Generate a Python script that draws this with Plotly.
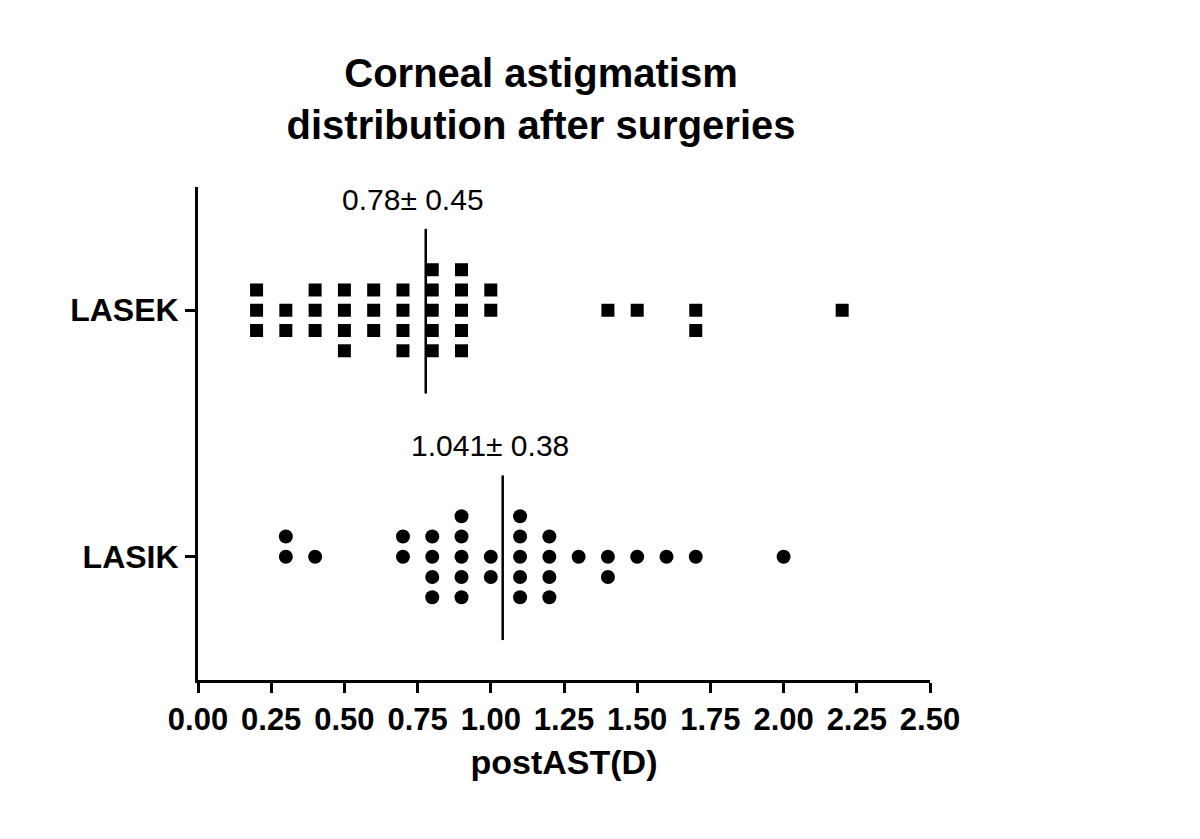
import plotly.graph_objects as go
from collections import Counter

# ---------------- data ----------------
groups = ["LASEK", "LASIK"]
lasek_ast = [0.2, 0.2, 0.2, 0.3, 0.3, 0.4, 0.4, 0.4,
             0.5, 0.5, 0.5, 0.5, 0.6, 0.6, 0.6,
             0.7, 0.7, 0.7, 0.7, 0.8, 0.8, 0.8, 0.8, 0.8,
             0.9, 0.9, 0.9, 0.9, 0.9, 1.0, 1.0,
             1.4, 1.5, 1.7, 1.7, 2.2]
lasik_ast = [0.3, 0.3, 0.4, 0.7, 0.7, 0.8, 0.8, 0.8, 0.8,
             0.9, 0.9, 0.9, 0.9, 0.9, 1.0, 1.0,
             1.1, 1.1, 1.1, 1.1, 1.1, 1.2, 1.2, 1.2, 1.2,
             1.3, 1.4, 1.4, 1.5, 1.6, 1.7, 2.0]
stat_labels = ["0.78\u00b1 0.45", "1.041\u00b1 0.38"]
x_ticks = [0.0, 0.25, 0.5, 0.75, 1.0, 1.25, 1.5, 1.75, 2.0, 2.25, 2.5]
x_ticklabels = ["0.00", "0.25", "0.50", "0.75", "1.00", "1.25", "1.50",
                "1.75", "2.00", "2.25", "2.50"]

# ---------------- layout helpers ----------------
FONT = "Liberation Sans, Arial, sans-serif"
group_pos = {"LASEK": 1.0, "LASIK": 0.0}
STEP = 0.0822  # vertical spacing between stacked points (axis units)
# for even-sized stacks: values whose extra point sits above the centre row
extra_above = {"LASEK": {1.0}, "LASIK": {0.3, 0.7}}


def stack(values, name):
    xs, ys = [], []
    counts = Counter(values)
    for v in sorted(counts):
        n = counts[v]
        if n % 2 == 1:
            slots = list(range(-(n // 2), n // 2 + 1))
        elif v in extra_above[name]:
            slots = list(range(-(n // 2 - 1), n // 2 + 1))
        else:
            slots = list(range(-(n // 2), n // 2))
        for s in slots:
            xs.append(v)
            ys.append(group_pos[name] + s * STEP)
    return xs, ys


fig = go.Figure()
data = {"LASEK": lasek_ast, "LASIK": lasik_ast}
symbols = {"LASEK": "square", "LASIK": "circle"}
sizes = {"LASEK": 13, "LASIK": 14}
for i, g in enumerate(groups):
    xs, ys = stack(data[g], g)
    fig.add_trace(go.Scatter(
        x=xs, y=ys, mode="markers", name=g, showlegend=False,
        marker=dict(symbol=symbols[g], size=sizes[g], color="black",
                    line=dict(width=0)),
    ))
    mean = sum(data[g]) / len(data[g])
    yc = group_pos[g]
    fig.add_shape(type="line", x0=mean, x1=mean, y0=yc - 0.338, y1=yc + 0.33,
                  xref="x", yref="y", line=dict(color="black", width=2.5))
    fig.add_annotation(x=mean, y=yc + 0.45, xref="x", yref="y",
                       text=stat_labels[i], showarrow=False, xshift=-13,
                       font=dict(family=FONT, size=30, color="black"))

fig.update_layout(
    width=1200, height=839,
    paper_bgcolor="white", plot_bgcolor="white",
    margin=dict(l=190, r=278, t=179, b=167),
    title=dict(text="<b>Corneal astigmatism<br>distribution after surgeries</b>",
               x=0.4686, xref="paper", xanchor="center",
               y=1 - 79 / 839, yref="container", yanchor="middle",
               font=dict(family=FONT, size=40, color="black")),
)
fig.update_xaxes(
    range=[0, 2.5], tickvals=x_ticks,
    ticktext=["<b>%s</b>" % t for t in x_ticklabels],
    showgrid=False, zeroline=False, showline=True, linecolor="black",
    linewidth=3, ticks="outside", ticklen=10, tickwidth=2.5,
    tickcolor="black",
    tickfont=dict(family=FONT, size=31, color="black"),
    title=dict(text="<b>postAST(D)</b>", standoff=14,
               font=dict(family=FONT, size=34, color="black")),
)
fig.update_yaxes(
    range=[-0.5, 1.5], tickvals=[group_pos[g] for g in groups],
    ticktext=["<b>%s</b>" % g for g in groups],
    showgrid=False, zeroline=False, showline=True, linecolor="black",
    linewidth=3, ticks="outside", ticklen=10, tickwidth=2.5,
    tickcolor="black",
    tickfont=dict(family=FONT, size=32, color="black"),
)

fig.write_html("out.html")
